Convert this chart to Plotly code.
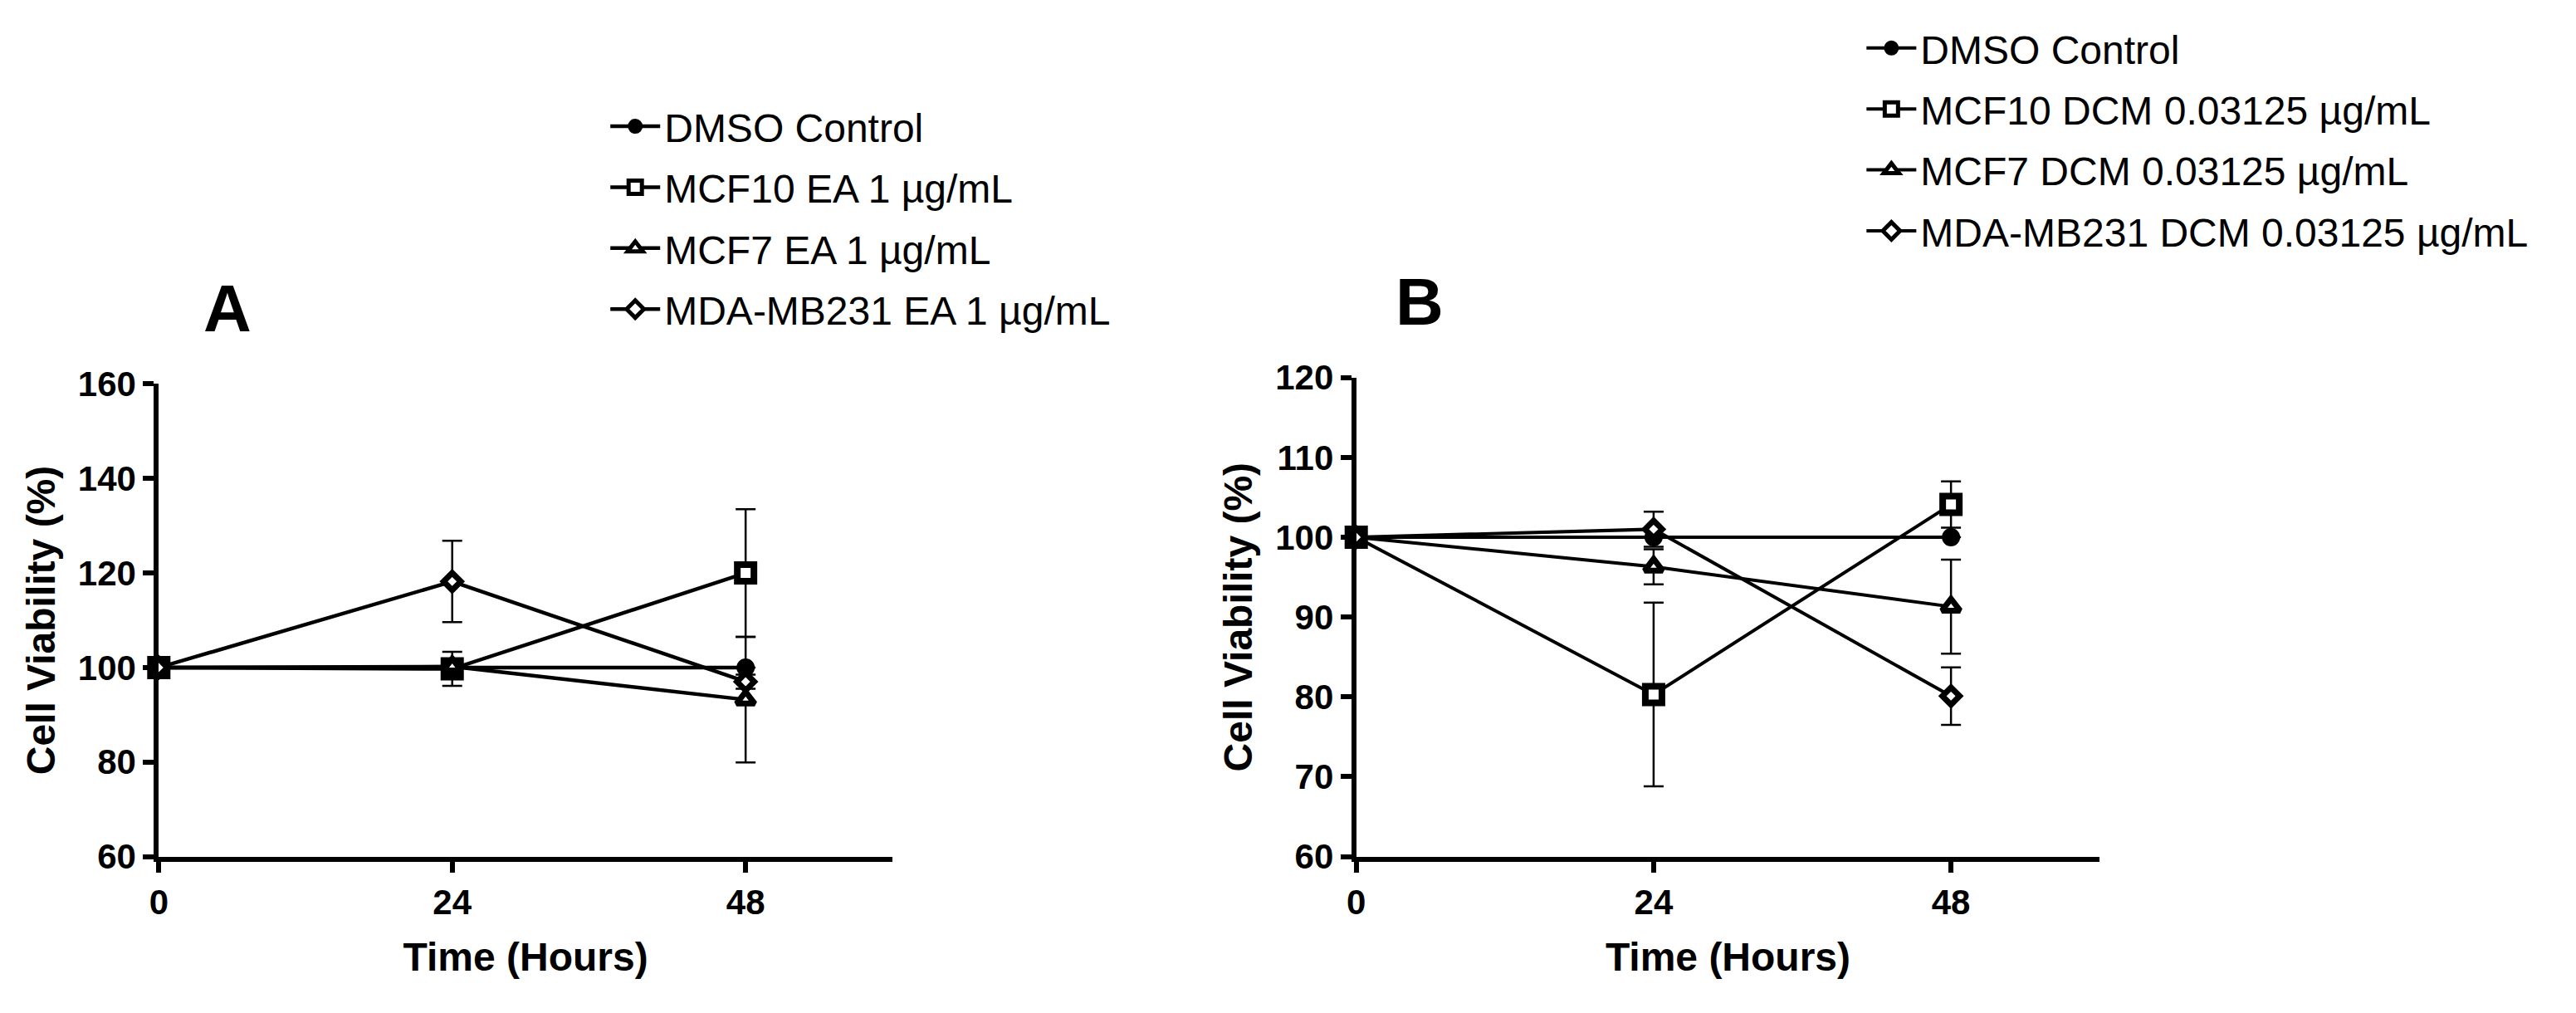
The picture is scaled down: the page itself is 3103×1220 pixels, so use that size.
import plotly.graph_objects as go

# ---------------- data ----------------
time_h = [0, 24, 48]
x_ticks = [0, 24, 48]

names_a = ["DMSO Control", "MCF10 EA 1 \u00b5g/mL", "MCF7 EA 1 \u00b5g/mL", "MDA-MB231 EA 1 \u00b5g/mL"]
names_b = ["DMSO Control", "MCF10 DCM 0.03125 \u00b5g/mL", "MCF7 DCM 0.03125 \u00b5g/mL",
           "MDA-MB231 DCM 0.03125 \u00b5g/mL"]

# Panel A (EA 1 ug/mL)
dmso_a = [100, 100, 100]
dmso_a_err = [None, None, None]
mcf10_a = [100, 99.7, 120.0]
mcf10_a_err = [None, 3.6, 13.5]
mcf7_a = [100, 100.2, 93.2]
mcf7_a_err = [None, 1.5, 13.3]
mda_a = [100, 118.2, 97.0]
mda_a_err = [None, 8.6, 1.5]

# Panel B (DCM 0.03125 ug/mL)
dmso_b = [100, 100, 100]
dmso_b_err = [None, None, None]
mcf10_b = [100, 80.3, 104.1]
mcf10_b_err = [None, 11.5, 2.9]
mcf7_b = [100, 96.3, 91.3]
mcf7_b_err = [None, 2.2, 5.9]
mda_b = [100, 101.0, 80.1]
mda_b_err = [None, 2.2, 3.6]

y_ticks_a = [60, 80, 100, 120, 140, 160]
y_ticks_b = [60, 70, 80, 90, 100, 110, 120]

# ---------------- figure ----------------
W, H = 3103, 1220
FONT = "Liberation Sans, Arial, Helvetica, sans-serif"

fig = go.Figure()

styles = [
    dict(symbol="circle", size=20, color="black", lw=2),
    dict(symbol="square", size=20, color="white", lw=8),
    dict(symbol="triangle-up", size=19, color="white", lw=7),
    dict(symbol="diamond", size=16, color="white", lw=7),
]


def add_panel(ys, errs, names, xref, yref, legend, linew):
    for i, (y, e, n) in enumerate(zip(ys, errs, names)):
        st = styles[i]
        fig.add_trace(go.Scatter(
            x=time_h, y=y, name=n, mode="lines+markers",
            xaxis=xref, yaxis=yref, legend=legend, legendgroup=legend + str(i),
            line=dict(color="black", width=linew),
            marker=dict(symbol=st["symbol"], size=st["size"], color=st["color"],
                        line=dict(color="black", width=st["lw"])),
            error_y=dict(type="data", array=e, visible=True, color="black",
                         thickness=2.5, width=12),
            cliponaxis=False,
        ))


add_panel([dmso_a, mcf10_a, mcf7_a, mda_a], [dmso_a_err, mcf10_a_err, mcf7_a_err, mda_a_err],
          names_a, "x", "y", "legend", 4.5)
add_panel([dmso_b, mcf10_b, mcf7_b, mda_b], [dmso_b_err, mcf10_b_err, mcf7_b_err, mda_b_err],
          names_b, "x2", "y2", "legend2", 4)

axis_common = dict(
    showline=True, linewidth=6, linecolor="black", mirror=False,
    ticks="outside", ticklen=13, tickwidth=6, tickcolor="black",
    showgrid=False, zeroline=False,
    tickfont=dict(family=FONT, size=42, color="black", weight="bold"),
)
title_font = dict(family=FONT, size=48, color="black", weight="bold")
legend_font = dict(family=FONT, size=48, color="black")

fig.update_layout(
    width=W, height=H,
    margin=dict(l=0, r=0, t=0, b=0),
    paper_bgcolor="white", plot_bgcolor="white",
    font=dict(family=FONT, color="black"),
    xaxis=dict(domain=[180 / W, 1067 / W], range=[0, 60], tickvals=x_ticks, anchor="y",
               title=dict(text="Time (Hours)", font=title_font, standoff=28),
               **axis_common),
    yaxis=dict(domain=[1 - 1049 / H, 1 - 457 / H], range=[60, 160], tickvals=y_ticks_a, anchor="x",
               title=dict(text="Cell Viability (%)", font=title_font, standoff=14),
               **axis_common),
    xaxis2=dict(domain=[1628 / W, 2527 / W], range=[0, 60], tickvals=x_ticks, anchor="y2",
                title=dict(text="Time (Hours)", font=title_font, standoff=28),
                **axis_common),
    yaxis2=dict(domain=[1 - 1049 / H, 1 - 449 / H], range=[60, 120], tickvals=y_ticks_b, anchor="x2",
                title=dict(text="Cell Viability (%)", font=title_font, standoff=14),
                **axis_common),
    legend=dict(x=721 / W, y=1 - 95 / H, xanchor="left", yanchor="top",
                font=legend_font, tracegroupgap=8,
                bgcolor="rgba(0,0,0,0)", itemsizing="trace", itemwidth=60),
    legend2=dict(x=2240 / W, y=1 + 3 / H, xanchor="left", yanchor="top",
                 font=legend_font, tracegroupgap=8,
                 bgcolor="rgba(0,0,0,0)", itemsizing="trace", itemwidth=60),
    showlegend=True,
    annotations=[
        dict(text="A", x=263 / W, y=1 - 362 / H, xref="paper", yref="paper", showarrow=False,
             font=dict(family=FONT, size=80, color="black", weight="bold"), xanchor="center", yanchor="middle"),
        dict(text="B", x=1705 / W, y=1 - 354 / H, xref="paper", yref="paper", showarrow=False,
             font=dict(family=FONT, size=80, color="black", weight="bold"), xanchor="center", yanchor="middle"),
    ],
)

fig.write_html("out.html", include_plotlyjs=True, full_html=True,
               config={"displayModeBar": False},
               post_script="document.body.style.margin='0';document.body.style.overflow='hidden';")
